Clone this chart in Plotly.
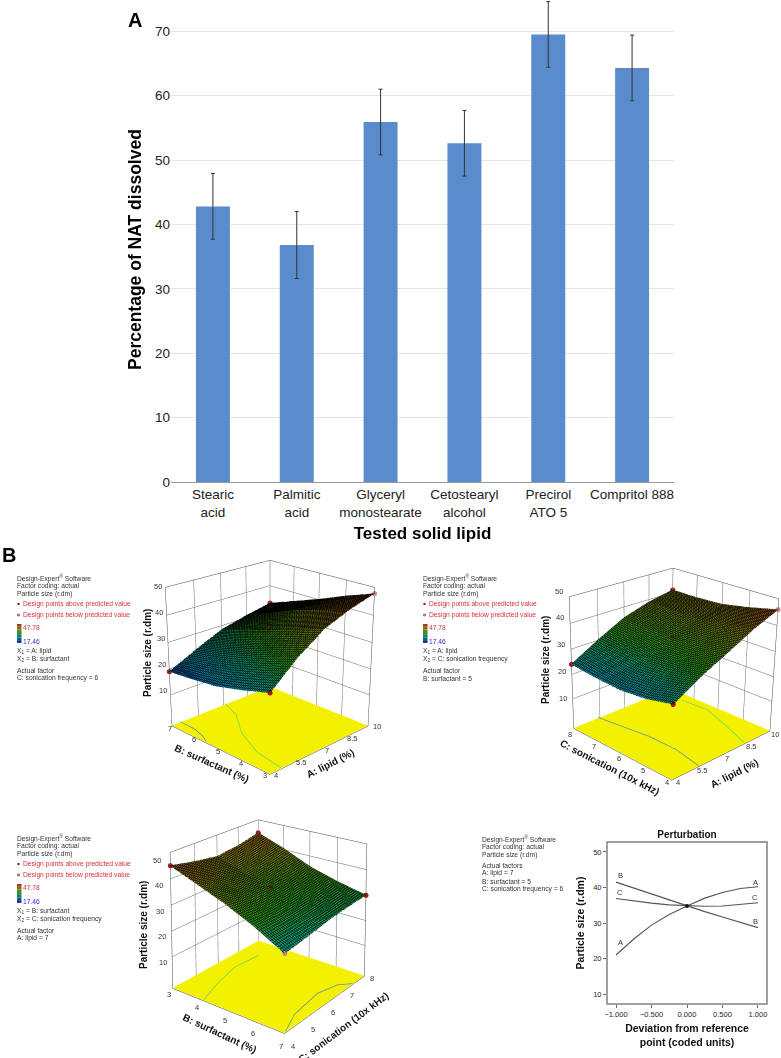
import math
import plotly.graph_objects as go

W, H = 781, 1058
FONT = "Liberation Sans, Arial, sans-serif"

# ---------- Panel A data ----------
lipids = ["Stearic<br>acid", "Palmitic<br>acid", "Glyceryl<br>monostearate",
          "Cetostearyl<br>alcohol", "Precirol<br>ATO 5", "Compritol 888"]
dissolved = [42.8, 36.8, 55.9, 52.6, 69.5, 64.3]
dissolved_err = [5.1, 5.2, 5.1, 5.1, 5.1, 5.1]
dissolved_ticks = [0, 10, 20, 30, 40, 50, 60, 70]

# ---------- Panel B surfaces ----------
lipid_lv = [4, 5.5, 7, 8.5, 10]
surf_lv = [3, 4, 5, 6, 7]
son_lv = [4, 5, 6, 7, 8]
z_ticks = [10, 20, 30, 40, 50]

z_ab = [[26.5, 35.0, 41.5, 45.2, 47.8],
        [23.5, 31.6, 38.0, 42.0, 44.2],
        [21.0, 28.6, 34.8, 39.0, 40.2],
        [19.8, 26.0, 31.5, 35.0, 36.6],
        [19.0, 24.0, 28.5, 31.0, 33.0]]
z_ac = [[26.0, 32.0, 36.9, 42.0, 46.0],
        [23.5, 30.0, 35.4, 40.0, 43.5],
        [22.5, 29.0, 34.8, 39.0, 41.5],
        [23.0, 29.5, 35.0, 39.0, 41.0],
        [24.0, 30.2, 35.7, 39.0, 41.0]]
# rows = sonication, columns = surfactant
z_bc = [[45.0, 41.0, 36.9, 32.0, 26.0],
        [43.0, 39.2, 35.4, 31.5, 27.2],
        [41.5, 38.0, 34.8, 31.6, 28.7],
        [42.5, 39.0, 35.0, 32.0, 29.5],
        [44.5, 40.5, 35.7, 32.5, 30.0]]

# floor contours
ab_green_x = [7.1, 6.66, 5.6, 4.86, 4.6]
ab_green_y = [7, 6.2, 5.2, 4.08, 3]
ab_blue_x = [4.45, 4.43, 4.2, 4.0]
ab_blue_y = [7, 6.3, 5.76, 5.5]
ac_green_x = [8.3, 8.9, 9.5, 9.4]
ac_green_y = [4, 5, 6.13, 7.15]
ac_blue_x = [5.5, 5.8, 5.8, 5.6, 5.4]
ac_blue_y = [4, 5, 6.1, 7, 8]
bc_green_x = [4.2, 3.88, 3.62, 3.7]
bc_green_y = [4, 4.94, 6.04, 7.13]
bc_blue_x = [7, 6.68, 6.52, 6.7, 7]
bc_blue_y = [4.05, 4.89, 6.24, 7, 7.32]

# design points
ab_pts_x = [4, 4, 10, 10, 7]
ab_pts_y = [3, 7, 3, 7, 5]
ab_pts_z = [26.5, 19.0, 47.8, 33.0, 34.8]
ac_pts_x = [4, 4, 10, 10, 7]
ac_pts_y = [4, 8, 4, 8, 6]
ac_pts_z = [26.0, 24.0, 46.0, 41.0, 34.8]
bc_pts_x = [3, 3, 7, 7, 5]
bc_pts_y = [4, 8, 4, 8, 6]
bc_pts_z = [45.0, 44.5, 26.0, 30.0, 34.8]
pts_above = ["#9b1c1c", "#9b1c1c", "#c88a8a", "#9b1c1c", "#9b1c1c"]

# ---------- Perturbation ----------
dev = [-1, -0.75, -0.5, -0.25, 0, 0.25, 0.5, 0.75, 1]
pert_a = [21.0, 25.5, 29.4, 32.4, 34.8, 37.0, 38.6, 39.7, 40.2]
pert_b = [41.5, 39.8, 38.1, 36.5, 34.8, 33.2, 31.7, 30.2, 28.7]
pert_c = [36.9, 36.2, 35.6, 35.1, 34.8, 34.7, 34.8, 35.2, 35.7]
pert_ticks_x = [-1, -0.5, 0, 0.5, 1]
pert_ticklabels_x = ["\u22121.000", "\u22120.500", "0.000", "0.500", "1.000"]
pert_ticks_y = [10, 20, 30, 40, 50]


def px(x):
    return x / W


def py(y):
    return 1 - y / H


surface_scale = [[0, "#0a2a90"], [0.15, "#0a86a8"], [0.32, "#0f9a78"],
                 [0.5, "#2a9a18"], [0.75, "#7f8410"], [1, "#b5481a"]]
CMIN, CMAX = 17.46, 47.78
FLOOR = -2.4

fig = go.Figure()

fig.add_trace(go.Bar(
    x=lipids, y=dissolved, width=0.405, marker=dict(color="#5a8bcd", line_width=0),
    error_y=dict(type="data", array=dissolved_err, color="#333333", thickness=1, width=2),
    xaxis="x", yaxis="y", showlegend=False))

for i, (d, v, col) in enumerate([(dev, pert_a, "A"), (dev, pert_b, "B"), (dev, pert_c, "C")]):
    fig.add_trace(go.Scatter(x=d, y=v, mode="lines", line=dict(color="#555555", width=1.1),
                             xaxis="x2", yaxis="y2", showlegend=False, name=col))
fig.add_trace(go.Scatter(x=[0], y=[34.8], mode="markers", marker=dict(color="#111", size=4),
                         xaxis="x2", yaxis="y2", showlegend=False))


def add_scene(name, xs, ys, zs, gx, gy, bx, by, px_, py_, pz_, n):
    fig.add_trace(go.Surface(
        x=xs, y=ys, z=zs, scene=name, colorscale=surface_scale, cmin=CMIN, cmax=CMAX,
        showscale=False, lighting=dict(ambient=1, diffuse=0, specular=0, roughness=1),
        contours=dict(
            x=dict(show=True, start=xs[0], end=xs[-1], size=(xs[-1] - xs[0]) / n, color="#000000", width=1),
            y=dict(show=True, start=ys[0], end=ys[-1], size=(ys[-1] - ys[0]) / n, color="#000000", width=1))))
    fig.add_trace(go.Surface(
        x=[xs[0], xs[-1]], y=[ys[0], ys[-1]], z=[[FLOOR + 0.2, FLOOR + 0.2], [FLOOR + 0.2, FLOOR + 0.2]], scene=name,
        colorscale=[[0, "#f4f100"], [1, "#f4f100"]], showscale=False,
        lighting=dict(ambient=1, diffuse=0, specular=0)))
    fig.add_trace(go.Scatter3d(x=gx, y=gy, z=[FLOOR + 0.5] * len(gx), mode="lines", scene=name,
                               line=dict(color="#6fd650", width=1.5), showlegend=False))
    fig.add_trace(go.Scatter3d(x=bx, y=by, z=[FLOOR + 0.5] * len(bx), mode="lines", scene=name,
                               line=dict(color="#5f8f9a", width=1.5), showlegend=False))
    fig.add_trace(go.Scatter3d(x=px_, y=py_, z=pz_, mode="markers", scene=name,
                               marker=dict(size=3, color=pts_above), showlegend=False))


add_scene("scene", lipid_lv, surf_lv, z_ab, ab_green_x, ab_green_y, ab_blue_x, ab_blue_y,
          ab_pts_x, ab_pts_y, ab_pts_z, 60)
add_scene("scene2", lipid_lv, son_lv, z_ac, ac_green_x, ac_green_y, ac_blue_x, ac_blue_y,
          ac_pts_x, ac_pts_y, ac_pts_z, 60)
add_scene("scene3", surf_lv, son_lv, z_bc, bc_green_x, bc_green_y, bc_blue_x, bc_blue_y,
          bc_pts_x, bc_pts_y, bc_pts_z, 52)


def ax3d(vals, rng):
    return dict(title=dict(text=""), showticklabels=False,
                tickvals=vals, range=rng,
                showbackground=False, gridcolor="#666666", gridwidth=1, showline=True,
                linecolor="#444444", linewidth=1, zeroline=False, showspikes=False, ticks="",
                mirror=True)


def scene(xv, xr, yv, yr, box, direction, elev, D, shift, zasp):
    theta = math.radians(elev)
    f = (box[3] - box[1]) / 2 / math.tan(math.radians(22.5))
    k = f / D
    dx, dy = direction
    n = math.hypot(dx, dy)
    dx, dy = dx / n, dy / n
    eye = (D * math.cos(theta) * dx, D * math.cos(theta) * dy, D * math.sin(theta))
    r = (-dy, dx, 0)  # screen right
    u = (-math.sin(theta) * dx, -math.sin(theta) * dy, math.cos(theta))
    t = [-(shift[0] / k) * r[i] - (shift[1] / k) * u[i] for i in range(3)]
    return dict(
        domain=dict(x=[px(box[0]), px(box[2])], y=[py(box[3]), py(box[1])]),
        xaxis=ax3d(xv, xr), yaxis=ax3d(yv, yr),
        zaxis=ax3d(z_ticks, [FLOOR, 50]),
        aspectmode="manual", aspectratio=dict(x=1, y=1, z=zasp),
        camera=dict(eye=dict(x=eye[0] + t[0], y=eye[1] + t[1], z=eye[2] + t[2]),
                    center=dict(x=t[0], y=t[1], z=t[2]),
                    up=dict(x=0, y=0, z=1), projection=dict(type="perspective")),
        bgcolor="rgba(0,0,0,0)")


legend_common = ["Design-Expert<sup>®</sup> Software", "Factor coding: actual", "Particle size (r.dm)"]
annos = []
ANX = -2


def text(x, y, s, size=6.7, color="#333333", xanchor="left", yanchor="middle", xref="paper", yref="paper", angle=0):
    off = ANX if xanchor == "left" else 0
    annos.append(dict(x=px(x + off) if xref == "paper" else x, y=py(y) if yref == "paper" else y,
                      xref=xref, yref=yref, text=s, showarrow=False, xanchor=xanchor, yanchor=yanchor,
                      textangle=angle,
                      font=dict(size=size, family=FONT, color=color), align="left"))


def tick_row(vals, p0, p1):
    """Place tick labels evenly along an axis edge given the label anchors of its two end values."""
    for v in vals:
        a = (v - vals[0]) / (vals[-1] - vals[0])
        text(p0[0] + a * (p1[0] - p0[0]), p0[1] + a * (p1[1] - p0[1]), str(v), size=7.5, color="#333333",
             xanchor="center")


# scene 1
tick_row(surf_lv, (265, 775), (170, 728))
tick_row(lipid_lv, (276, 775), (377, 726))
tick_row(z_ticks, (163, 690), (158, 586))
# scene 2
tick_row(son_lv, (667, 782), (570, 734))
tick_row(lipid_lv, (678, 782), (775, 734))
tick_row(z_ticks, (563, 698), (559, 591))
# scene 3
tick_row(surf_lv, (169, 994), (281, 1046))
tick_row(son_lv, (293, 1046), (372, 978))
tick_row(z_ticks, (163, 962), (157, 860))

shapes = [dict(type="rect", xref="x2 domain", yref="y2 domain", x0=0, x1=1, y0=0, y1=1,
               line=dict(color="#808080", width=1.5), fillcolor="rgba(0,0,0,0)")]
legend_ramp = ["#a03a18", "#8f6a10", "#5a8a12", "#1f8a3a", "#0f7f70", "#0c5f8c", "#0b2f86"]


def design_legend(x0, y0, tail):
    for i, s in enumerate(legend_common):
        text(x0, y0 + i * 8, s)
    shapes.append(dict(type="rect", xref="paper", yref="paper", x0=px(x0 + 0.5), x1=px(x0 + 2.5),
                       y0=py(y0 + 25), y1=py(y0 + 27), fillcolor="#7a1515", line_width=0))
    text(x0 + 6, y0 + 26, "Design points above predicted value", color="#d8303a")
    shapes.append(dict(type="rect", xref="paper", yref="paper", x0=px(x0 + 0.5), x1=px(x0 + 2.5),
                       y0=py(y0 + 36), y1=py(y0 + 38), fillcolor="#c9a0a0", line=dict(color="#444", width=0.5)))
    text(x0 + 6, y0 + 37, "Design points below predicted value", color="#d8303a")
    for i, c in enumerate(legend_ramp):
        shapes.append(dict(type="rect", xref="paper", yref="paper", x0=px(x0), x1=px(x0 + 4.5),
                           y0=py(y0 + 46 + i * 2.7), y1=py(y0 + 46 + (i + 1) * 2.7), fillcolor=c, line_width=0))
    text(x0 + 6, y0 + 49, "47.78", color="#d8303a")
    text(x0 + 6, y0 + 63, "17.46", color="#2a2ae0")
    for i, s in enumerate(tail):
        ys = [73, 81, 92, 100]
        text(x0, y0 + ys[i], s)


design_legend(17, 578, ["X<sub>1</sub> = A: lipid", "X<sub>2</sub> = B: surfactant", "Actual factor",
                        "C: sonication frequency = 6"])
design_legend(423, 578, ["X<sub>1</sub> = A: lipid", "X<sub>2</sub> = C: sonication frequency", "Actual factor",
                         "B: surfactant = 5"])
design_legend(17, 838, ["X<sub>1</sub> = B: surfactant", "X<sub>2</sub> = C: sonication frequency", "Actual factor",
                        "A: lipid = 7"])
for i, s in enumerate(legend_common):
    text(482, 838.5 + i * 8, s)
text(482, 865, "Actual factors")
text(482, 873, "A: lipid = 7")
text(482, 881, "B: surfactant = 5")
text(482, 889, "C: sonication frequency = 6")

text(128, 20, "<b>A</b>", size=20, color="#000")
text(2, 555, "<b>B</b>", size=20, color="#000")
text(135, 250, "<b>Percentage of NAT dissolved</b>", size=17.5, color="#000", xanchor="center", angle=-90)

TS = 10
for x, y, s, ang in [(147, 653, "Particle size (r.dm)", -90), (212, 763, "B: surfactant (%)", 24),
                     (330, 763, "A: lipid (%)", -27),
                     (545, 660, "Particle size (r.dm)", -90), (610, 767, "C: sonication (10x kHz)", 27),
                     (734, 773, "A: lipid (%)", -27),
                     (143, 925, "Particle size (r.dm)", -90), (220, 1033, "B: surfactant (%)", 25),
                     (343, 1027, "C: sonication (10x kHz)", -37)]:
    text(x, y, "<b>%s</b>" % s, size=TS, color="#111", xanchor="center", angle=ang)

for lab, x, y in [("A", -0.94, 24.5), ("A", 0.96, 41.5), ("B", -0.94, 43.3), ("B", 0.96, 30.5),
                  ("C", -0.94, 38.5), ("C", 0.96, 37.3)]:
    text(x, y, lab, size=7.5, xanchor="center", xref="x2", yref="y2")

fig.update_layout(
    width=W, height=H, margin=dict(l=0, r=0, t=0, b=0, autoexpand=False), paper_bgcolor="white", plot_bgcolor="white",
    bargap=0.6, showlegend=False, annotations=annos, shapes=shapes,
    font=dict(family=FONT),
    xaxis=dict(domain=[px(171), px(674)], anchor="y", tickfont=dict(size=13.5, color="#222"), automargin=False,
               title=dict(text="<b>Tested solid lipid</b>", font=dict(size=17, color="#000"), standoff=8),
               showline=True, linecolor="#999", ticks="", tickangle=0),
    yaxis=dict(domain=[py(482), 1], range=[0, 74.85], tickvals=dissolved_ticks, automargin=False,
               tickfont=dict(size=13.5, color="#222"), gridcolor="#e4e4e4", gridwidth=1,
               zeroline=False, ticks=""),
    xaxis2=dict(domain=[px(607), px(767)], anchor="y2", range=[-1.127, 1.127], tickvals=pert_ticks_x,
                ticktext=pert_ticklabels_x, tickfont=dict(size=7.5, color="#222"), ticks="outside", ticklen=3,
                tickcolor="#666", showgrid=False, automargin=False,
                zeroline=False,
                title=dict(text="<b>Deviation from reference<br>point (coded units)</b>",
                           font=dict(size=10.5, color="#111"), standoff=6)),
    yaxis2=dict(domain=[py(1004), py(842)], anchor="x2", range=[7.2, 52.8], tickvals=pert_ticks_y, automargin=False,
                tickfont=dict(size=7.5, color="#222"), ticks="outside", ticklen=3, tickcolor="#666",
                showgrid=False, zeroline=False,
                title=dict(text="<b>Particle size (r.dm)</b>", font=dict(size=10.5, color="#111"), standoff=6)),
    scene=scene(lipid_lv, [4, 10], surf_lv, [3, 7],
                (40, 316, 500, 1016), (-1, -1), 22, 5.9, (0, 7), 1.04),
    scene2=scene(lipid_lv, [4, 10], son_lv, [4, 8],
                 (500, 316, 781, 1016), (-0.97, -1.03), 23, 5.9, (32, 0), 1.0),
    scene3=scene(surf_lv, [3, 7], son_lv, [4, 8],
                 (40, 358, 500, 1058), (0.607, -0.795), 9, 6.1, (0, -208), 1.02),
    title=dict(text="<b>Perturbation</b>", font=dict(size=10, color="#111"), x=px(687), xanchor="center",
               y=py(834), yanchor="middle"),
)

fig.write_html("out.html", post_script="document.body.style.margin='0';document.body.style.overflow='hidden';",
               config=dict(displayModeBar=False))
